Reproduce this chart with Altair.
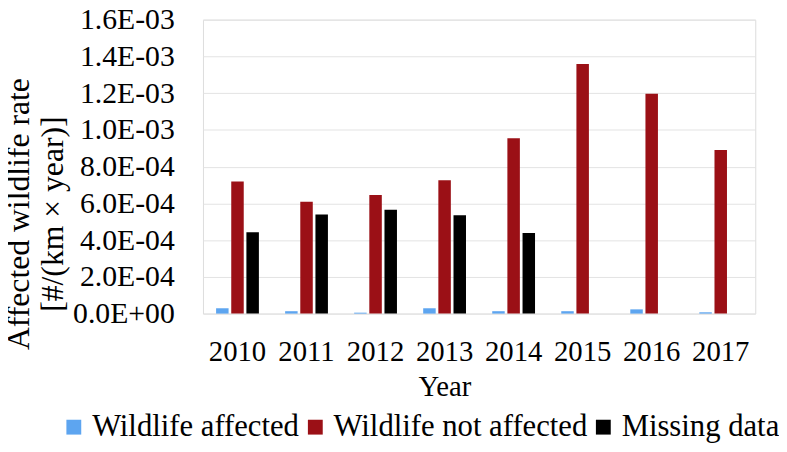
import altair as alt
import pandas as pd

years = ["2010", "2011", "2012", "2013", "2014", "2015", "2016", "2017"]
series_names = ["Wildlife affected", "Wildlife not affected", "Missing data"]
wildlife_affected = [2.9e-5, 1.3e-5, 5e-6, 2.9e-5, 1.3e-5, 1.3e-5, 2.3e-5, 7e-6]
wildlife_not_affected = [7.19e-4, 6.09e-4, 6.45e-4, 7.26e-4, 9.54e-4, 1.358e-3, 1.197e-3, 8.9e-4]
missing_data = [4.43e-4, 5.40e-4, 5.65e-4, 5.35e-4, 4.39e-4, None, None, None]
colors = ["#5DA5F0", "#9B1016", "#000000"]
tick_values = [0, 0.0002, 0.0004, 0.0006, 0.0008, 0.0010, 0.0012, 0.0014, 0.0016]
tick_labels = ["0.0E+00", "2.0E-04", "4.0E-04", "6.0E-04", "8.0E-04",
               "1.0E-03", "1.2E-03", "1.4E-03", "1.6E-03"]

rows = []
for name, vals in zip(series_names, [wildlife_affected, wildlife_not_affected, missing_data]):
    for y, v in zip(years, vals):
        if v is not None:
            rows.append({"Year": y, "Series": name, "Value": v})
df = pd.DataFrame(rows)

FONT = "Liberation Serif"
label_expr = "[" + ",".join("'%s'" % t for t in tick_labels) + "][round(datum.value/0.0002)]"

chart = alt.Chart(df).mark_bar().encode(
    x=alt.X("Year:N", sort=years,
            scale=alt.Scale(paddingInner=0.38, paddingOuter=0.19),
            axis=alt.Axis(title="Year", labelAngle=0, domain=False, ticks=False, tickSize=0,
                          labelFont=FONT, labelFontSize=29, labelColor="#000000",
                          labelBaseline="alphabetic", labelPadding=47,
                          titleFont=FONT, titleFontSize=29, titleFontWeight="normal",
                          titleColor="#000000", titleX=244, titleY=83,
                          titleAlign="center", titleBaseline="alphabetic")),
    xOffset=alt.XOffset("Series:N", sort=series_names,
                        scale=alt.Scale(paddingInner=0.176, paddingOuter=0)),
    y=alt.Y("Value:Q",
            scale=alt.Scale(domain=[0, 0.0016], nice=False),
            axis=alt.Axis(values=tick_values, labelExpr=label_expr,
                          title=["Affected wildlife rate", "[#/(km × year)]"],
                          domain=False, ticks=False, tickSize=0,
                          grid=True, gridColor="#E3E3E3", gridWidth=1,
                          labelFont=FONT, labelFontSize=30, labelColor="#000000",
                          labelPadding=29, labelBaseline="middle",
                          titleFont=FONT, titleFontSize=32, titleFontWeight="normal",
                          titleColor="#000000", titleAngle=270, titleX=-176, titleY=196,
                          titleAlign="center", titleBaseline="alphabetic",
                          titleLineHeight=34)),
    color=alt.Color("Series:N", sort=series_names,
                    scale=alt.Scale(domain=series_names, range=colors),
                    legend=alt.Legend(title=None, orient="none", legendX=-146, legendY=396,
                                      direction="horizontal", symbolType="square",
                                      symbolSize=225, symbolStrokeWidth=0,
                                      labelFont=FONT, labelFontSize=31, labelColor="#000000",
                                      labelOffset=3, columnPadding=0, padding=0,
                                      labelLimit=400)),
).properties(
    width=558, height=297,
    padding={"left": 197, "top": 9.5, "right": 24, "bottom": 129.5},
    autosize=alt.AutoSizeParams(type="none"),
).configure_view(stroke=None).configure(background="white")

chart.save("out.html", embed_options={"renderer": "svg", "actions": False})
